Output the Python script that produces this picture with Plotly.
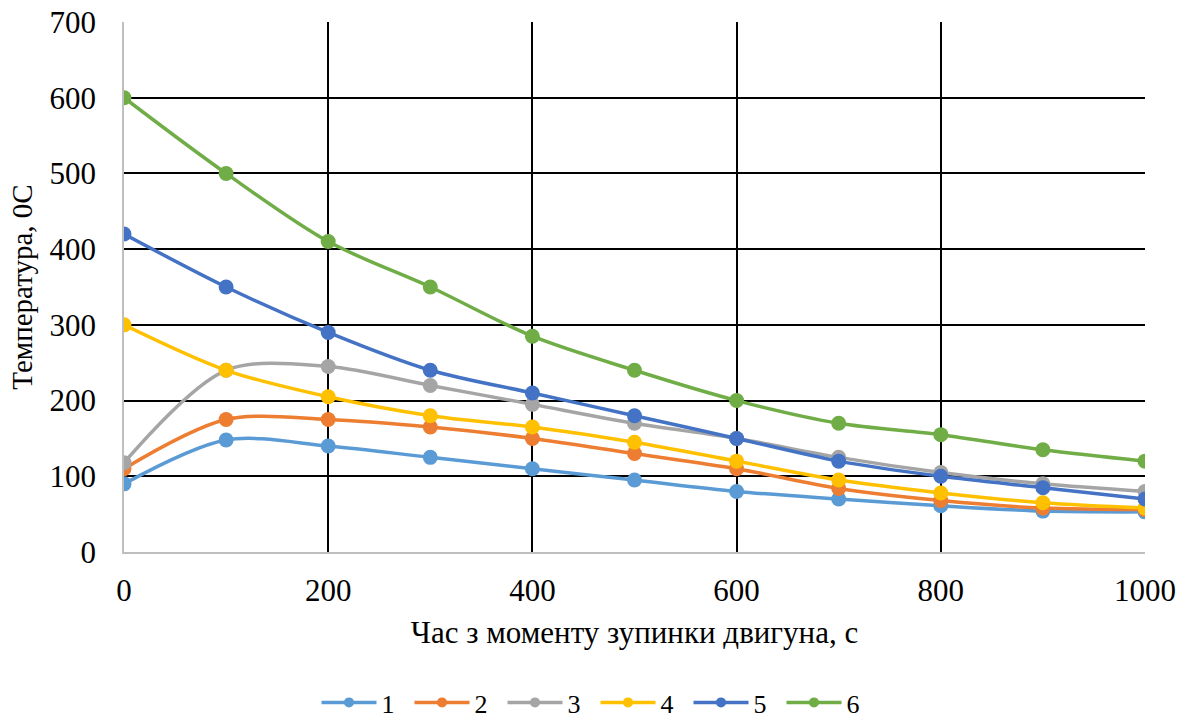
import plotly.graph_objects as go

# Time since engine stop, s
time_s = [0, 100, 200, 300, 400, 500, 600, 700, 800, 900, 1000]

# Temperature curves for six measurement points
series_names = ["1", "2", "3", "4", "5", "6"]
temp_1 = [90, 148, 140, 125, 110, 95, 80, 70, 61, 54, 53]
temp_2 = [110, 175, 175, 165, 150, 130, 110, 84, 68, 58, 56]
temp_3 = [118, 240, 245, 220, 195, 170, 150, 125, 105, 90, 80]
temp_4 = [300, 240, 205, 180, 165, 145, 120, 95, 78, 65, 58]
temp_5 = [420, 350, 290, 240, 210, 180, 150, 120, 100, 85, 70]
temp_6 = [600, 500, 410, 350, 285, 240, 200, 170, 155, 135, 120]

colors = ["#5B9BD5", "#ED7D31", "#A5A5A5", "#FFC000", "#4472C4", "#70AD47"]

x_ticks = [0, 200, 400, 600, 800, 1000]
y_ticks = [0, 100, 200, 300, 400, 500, 600, 700]

FONT = "Liberation Serif, Times New Roman, serif"

fig = go.Figure()

all_series = [temp_1, temp_2, temp_3, temp_4, temp_5, temp_6]
for name, values, color in zip(series_names, all_series, colors):
    fig.add_trace(go.Scatter(
        x=time_s, y=values, name=name, mode="lines+markers",
        line=dict(color=color, width=3.5, shape="spline", smoothing=0.9),
        marker=dict(color=color, size=15),
        showlegend=False,
    ))

# Legend keys with smaller markers
for name, color in zip(series_names, colors):
    fig.add_trace(go.Scatter(
        x=[None], y=[None], name=name, mode="lines+markers",
        line=dict(color=color, width=3.5),
        marker=dict(color=color, size=10),
        showlegend=True,
    ))

fig.update_layout(
    width=1191, height=726,
    margin=dict(l=124, r=46, t=22, b=174, autoexpand=False),
    paper_bgcolor="white", plot_bgcolor="white",
    font=dict(family=FONT, size=30, color="black"),
    legend=dict(
        orientation="h", xref="container", x=0.5, xanchor="center",
        yref="container", y=-0.008, yanchor="bottom",
        font=dict(family=FONT, size=26), itemwidth=55, tracegroupgap=0,
        entrywidth=23, entrywidthmode="pixels",
    ),
)

fig.update_xaxes(
    range=[0, 1000], tickvals=x_ticks, ticktext=[str(v) for v in x_ticks],
    showgrid=True, gridcolor="black", gridwidth=1.5,
    showline=True, linecolor="#BFBFBF", linewidth=1.5,
    zeroline=False, ticks="", ticklabelstandoff=10, automargin=False,
    tickfont=dict(family=FONT, size=31),
    title=dict(text="Час з моменту зупинки двигуна, с",
               font=dict(family=FONT, size=31), standoff=14),
)
fig.update_yaxes(
    range=[0, 700], tickvals=y_ticks, ticktext=[str(v) for v in y_ticks],
    showgrid=True, gridcolor="black", gridwidth=1.5,
    showline=True, linecolor="#BFBFBF", linewidth=1.5,
    zeroline=False, ticks="", ticklabelstandoff=20, automargin=False,
    tickfont=dict(family=FONT, size=31),
    title=dict(text="Температура, 0С", font=dict(family=FONT, size=29), standoff=8),
)

fig.write_html("out.html")
